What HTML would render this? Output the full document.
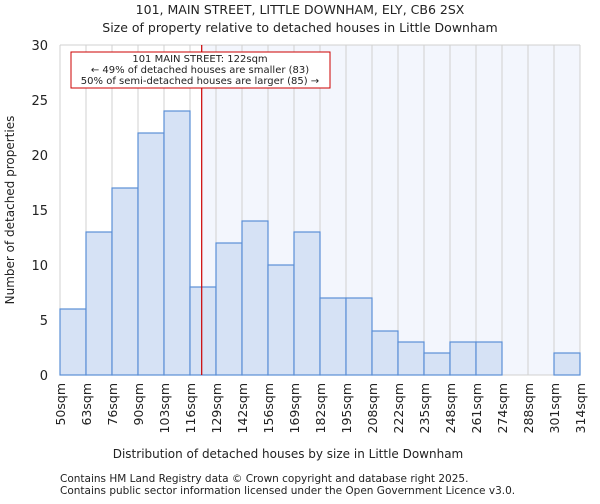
<!DOCTYPE html>
<html><head><meta charset="utf-8"><style>
body{margin:0;background:#fff;font-family:"DejaVu Sans","Liberation Sans",sans-serif;}
svg text{font-family:"DejaVu Sans","Liberation Sans",sans-serif;fill:#222;}
</style></head><body>
<svg id="chart" width="600" height="500" xmlns="http://www.w3.org/2000/svg">
<text x="300" y="14" text-anchor="middle" font-size="12.5">101, MAIN STREET, LITTLE DOWNHAM, ELY, CB6 2SX</text>
<text x="300" y="32" text-anchor="middle" font-size="12.5">Size of property relative to detached houses in Little Downham</text>
<g id="plot"></g>
<text x="288" y="458" text-anchor="middle" font-size="12">Distribution of detached houses by size in Little Downham</text>
<text transform="translate(14,210) rotate(-90)" text-anchor="middle" font-size="12">Number of detached properties</text>
<text x="60" y="482" font-size="10.5" fill="#444">Contains HM Land Registry data © Crown copyright and database right 2025.</text>
<text x="60" y="494" font-size="10.5" fill="#444">Contains public sector information licensed under the Open Government Licence v3.0.</text>
</svg>
<script>
const binLabels=["50sqm","63sqm","76sqm","90sqm","103sqm","116sqm","129sqm","142sqm","156sqm","169sqm","182sqm","195sqm","208sqm","222sqm","235sqm","248sqm","261sqm","274sqm","288sqm","301sqm","314sqm"];
const counts=[6,13,17,22,24,8,12,14,10,13,7,7,4,3,2,3,3,0,0,2];
const yTicks=[0,5,10,15,20,25,30];
const markerBin=5.45;
const NS="http://www.w3.org/2000/svg";
const g=document.getElementById('plot');
const X0=60,X1=580,Y0=375,Y1=45,yMax=30;
const bw=(X1-X0)/counts.length;
const xs=i=>X0+i*bw;
const ys=v=>Y0-(v/yMax)*(Y0-Y1);
function mk(t,a){const e=document.createElementNS(NS,t);for(const k in a)e.setAttribute(k,a[k]);g.appendChild(e);return e;}
const mx=xs(markerBin);
let e=mk('rect',{x:mx,y:Y1,width:X1-mx,height:Y0-Y1,fill:'#f3f6fd'});


for(let i=0;i<=counts.length;i++){e=mk('line',{x1:xs(i),x2:xs(i),y1:Y1,y2:Y0,stroke:'#d0d0d0','stroke-width':1});

}
[Y1,Y0].forEach(y=>{e=mk('line',{x1:X0,x2:X1,y1:y,y2:y,stroke:'#d0d0d0','stroke-width':1});

});
yTicks.forEach(t=>{
e=mk('text',{x:X0-12,y:ys(t)+5,'text-anchor':'end','font-size':13});e.textContent=t;

});
counts.forEach((c,i)=>{if(c<=0)return;e=mk('rect',{x:xs(i),y:ys(c),width:bw,height:Y0-ys(c),fill:'#d6e2f5',stroke:'#5b8fd6','stroke-width':1.2});

});
binLabels.forEach((l,i)=>{e=mk('text',{transform:`translate(${xs(i)+5},${Y0+8}) rotate(-90)`,'text-anchor':'end','font-size':12.5});e.textContent=l;

});
e=mk('line',{x1:mx,x2:mx,y1:Y1,y2:Y0,stroke:'#cc0000','stroke-width':1.2});


e=mk('rect',{x:71,y:52,width:259,height:36,fill:'#fff',stroke:'#cc0000','stroke-width':1});


["101 MAIN STREET: 122sqm","← 49% of detached houses are smaller (83)","50% of semi-detached houses are larger (85) →"].forEach((t,i)=>{
e=mk('text',{x:200,y:62+i*11,'text-anchor':'middle','font-size':10});e.textContent=t;

});
</script>
</body></html>
